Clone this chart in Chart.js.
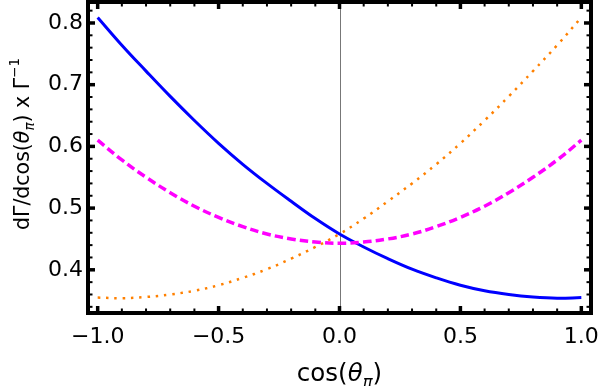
<!DOCTYPE html>
<html>
<head>
<meta charset="utf-8">
<script src="https://cdn.jsdelivr.net/npm/chart.js@4"></script>
<style>
  html, body { margin: 0; padding: 0; background: #fff; }
  canvas { display: block; }
</style>
</head>
<body>
<canvas id="plot" width="600" height="386"></canvas>
<script>
/* =========================
   DATA
========================= */
const cosTheta = [-1.0, -0.9, -0.8, -0.7, -0.6, -0.5, -0.4, -0.3, -0.2, -0.1, 0.0,
                  0.1, 0.2, 0.3, 0.4, 0.5, 0.6, 0.7, 0.8, 0.9, 1.0];

const blueSolid = [0.809, 0.764, 0.722, 0.681, 0.642, 0.605, 0.571, 0.540, 0.511, 0.483, 0.458,
                   0.437, 0.418, 0.401, 0.387, 0.375, 0.366, 0.360, 0.356, 0.354, 0.355];

const magentaDashed = [0.610, 0.578, 0.550, 0.525, 0.503, 0.485, 0.470, 0.458, 0.450, 0.445, 0.443,
                       0.445, 0.450, 0.458, 0.470, 0.485, 0.503, 0.525, 0.550, 0.578, 0.610];

const orangeDotted = [0.355, 0.354, 0.356, 0.360, 0.366, 0.375, 0.387, 0.401, 0.418, 0.437, 0.458,
                      0.483, 0.511, 0.540, 0.571, 0.605, 0.642, 0.681, 0.722, 0.764, 0.809];

const xTicks = [-1.0, -0.5, 0.0, 0.5, 1.0];
const xMinorTicks = [-1.0, -0.9, -0.8, -0.7, -0.6, -0.5, -0.4, -0.3, -0.2, -0.1, 0.0,
                     0.1, 0.2, 0.3, 0.4, 0.5, 0.6, 0.7, 0.8, 0.9, 1.0];
const yTicks = [0.4, 0.5, 0.6, 0.7, 0.8];
const yMinorTicks = [0.34, 0.36, 0.38, 0.40, 0.42, 0.44, 0.46, 0.48, 0.50, 0.52, 0.54, 0.56, 0.58,
                     0.60, 0.62, 0.64, 0.66, 0.68, 0.70, 0.72, 0.74, 0.76, 0.78, 0.80, 0.82];

const FONT = '"DejaVu Sans", "Liberation Sans", sans-serif';

function pts(ys) {
  return cosTheta.map((x, i) => ({ x: x, y: ys[i] }));
}

function fmt(v) {
  const s = Math.abs(v).toFixed(1);
  return v < 0 ? '\u2212' + s : s;
}

// draws a run of [text, size, italic, shift] pieces centred on 0
function drawPieces(ctx, pieces) {
  let total = 0;
  pieces.forEach(p => {
    ctx.font = (p[2] ? 'italic ' : '') + p[1] + 'px ' + FONT;
    p.w = ctx.measureText(p[0]).width;
    total += p.w;
  });
  let x = -total / 2;
  pieces.forEach(p => {
    ctx.font = (p[2] ? 'italic ' : '') + p[1] + 'px ' + FONT;
    ctx.fillText(p[0], x, p[3]);
    x += p.w;
  });
}

/* =========================
   FRAME + LABELS
========================= */
const framePlugin = {
  id: 'frame',
  beforeDatasetsDraw(chart) {
    const { ctx, chartArea: a, scales: { x } } = chart;
    const px = Math.round(x.getPixelForValue(0)) + 0.5;
    ctx.save();
    ctx.strokeStyle = '#777';
    ctx.lineWidth = 1;
    ctx.beginPath();
    ctx.moveTo(px, a.top);
    ctx.lineTo(px, a.bottom);
    ctx.stroke();
    ctx.restore();
  },
  afterDatasetsDraw(chart) {
    const { ctx, chartArea: a, scales: { x, y } } = chart;
    ctx.save();
    ctx.strokeStyle = '#000';
    ctx.lineWidth = 4;
    ctx.strokeRect(a.left, a.top, a.right - a.left, a.bottom - a.top);

    const tick = (x1, y1, x2, y2, w) => {
      ctx.lineWidth = w;
      ctx.beginPath();
      ctx.moveTo(x1, y1);
      ctx.lineTo(x2, y2);
      ctx.stroke();
    };
    xMinorTicks.forEach(v => {
      const p = x.getPixelForValue(v);
      tick(p, a.bottom, p, a.bottom - 4.5, 2);
      tick(p, a.top, p, a.top + 4.5, 2);
    });
    xTicks.forEach(v => {
      const p = x.getPixelForValue(v);
      tick(p, a.bottom, p, a.bottom - 7, 3.5);
      tick(p, a.top, p, a.top + 7, 3.5);
    });
    yMinorTicks.forEach(v => {
      const p = y.getPixelForValue(v);
      tick(a.left, p, a.left + 4.5, p, 2);
      tick(a.right, p, a.right - 4.5, p, 2);
    });
    yTicks.forEach(v => {
      const p = y.getPixelForValue(v);
      tick(a.left, p, a.left + 7, p, 3.5);
      tick(a.right, p, a.right - 7, p, 3.5);
    });

    // axis titles
    ctx.fillStyle = '#000';
    ctx.textBaseline = 'alphabetic';
    ctx.textAlign = 'left';

    ctx.save();
    ctx.translate(339.5, 381);
    drawPieces(ctx, [['cos(', 24.5, false, 0], ['\u03B8', 24.5, true, 0], ['\u03C0', 16.5, true, 6], [')', 24.5, false, 0]]);
    ctx.restore();

    ctx.save();
    ctx.translate(28.5, 144);
    ctx.rotate(-Math.PI / 2);
    drawPieces(ctx, [
      ['d\u0393/dcos(', 20.5, false, 0], ['\u03B8', 20.5, true, 0], ['\u03C0', 13.5, true, 5],
      [') x \u0393', 20.5, false, 0], ['\u22121', 13.5, false, -10]
    ]);
    ctx.restore();

    ctx.restore();
  }
};

/* =========================
   CHART
========================= */
new Chart(document.getElementById('plot').getContext('2d'), {
  type: 'line',
  data: {
    datasets: [
      { data: pts(blueSolid), borderColor: 'rgb(0,0,255)', borderWidth: 3, order: 2 },
      { data: pts(magentaDashed), borderColor: 'rgb(255,0,255)', borderWidth: 3.5,
        borderDash: [8.5, 4.2], order: 1 },
      { data: pts(orangeDotted), borderColor: 'rgb(255,128,0)', borderWidth: 2.5,
        borderDash: [2.5, 5.8], order: 0 }
    ]
  },
  options: {
    responsive: false,
    animation: false,
    devicePixelRatio: 1,
    layout: { padding: { top: 2, right: 9, left: 0, bottom: 0 } },
    elements: { point: { radius: 0 }, line: { tension: 0.4, fill: false } },
    plugins: { legend: { display: false }, tooltip: { enabled: false } },
    scales: {
      x: {
        type: 'linear',
        min: -1.04,
        max: 1.04,
        grid: { display: false, drawTicks: false },
        border: { display: false },
        afterBuildTicks: s => { s.ticks = xTicks.map(v => ({ value: v })); },
        afterFit: s => { s.height = 73; s.paddingLeft = 0; s.paddingRight = 0; },
        ticks: {
          autoSkip: false,
          maxRotation: 0,
          padding: 11,
          color: '#000',
          font: { family: FONT, size: 22 },
          callback: v => fmt(v)
        }
      },
      y: {
        type: 'linear',
        min: 0.33,
        max: 0.834,
        grid: { display: false, drawTicks: false },
        border: { display: false },
        afterBuildTicks: s => { s.ticks = yTicks.map(v => ({ value: v })); },
        afterFit: s => { s.width = 88; s.paddingTop = 0; s.paddingBottom = 0; },
        ticks: {
          autoSkip: false,
          padding: 5,
          color: '#000',
          font: { family: FONT, size: 22 },
          callback: v => fmt(v)
        }
      }
    }
  },
  plugins: [framePlugin]
});
</script>
</body>
</html>
